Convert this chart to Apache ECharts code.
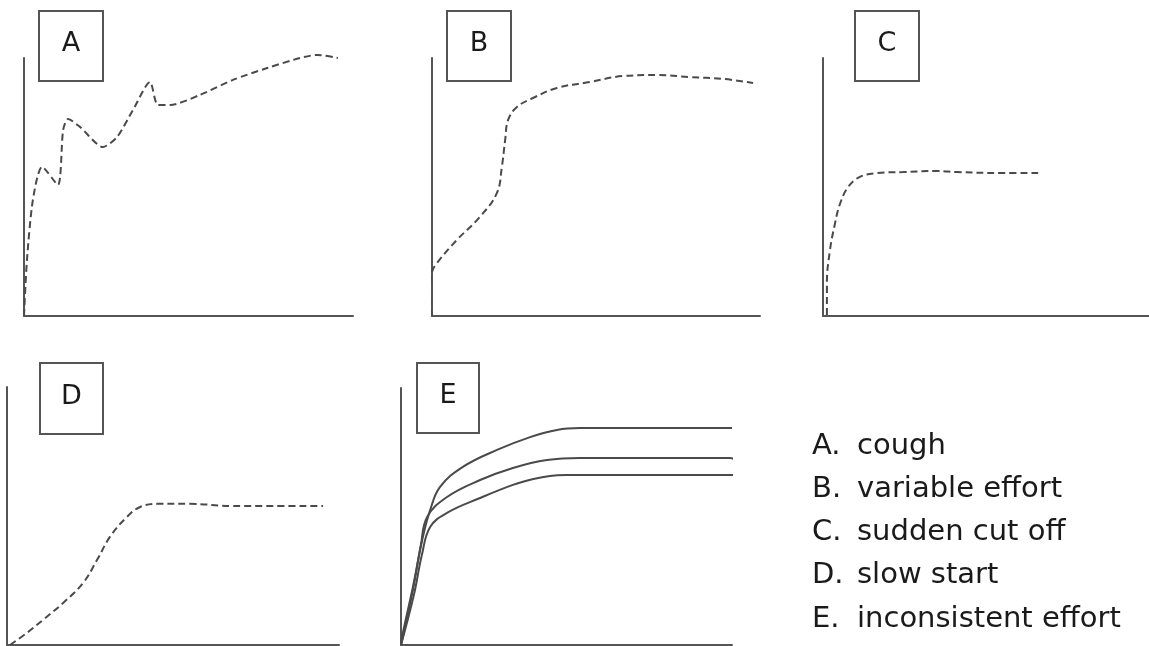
<!DOCTYPE html>
<html>
<head>
<meta charset="utf-8">
<title>Spirometry errors</title>
<script src="https://cdn.jsdelivr.net/npm/echarts@6/dist/echarts.min.js"></script>
<style>
  html, body { margin: 0; padding: 0; background: #fff; }
  #chart { width: 1149px; height: 646px; }
</style>
</head>
<body>
<div id="chart"></div>
<script>
// curve values (x: 0-100 along the axis, y: 0-100 up the axis)
const coughX = [0, 0.9, 2.7, 5.5, 10.3, 11.9, 13.4, 17.0, 24.0, 28.3, 33.1, 38.3, 40.7, 44.4, 53.5, 63.5, 73.9, 83.9, 89.1, 95.4];
const coughY = [0, 21.7, 45, 57.8, 50.8, 72.1, 76.4, 73.3, 65.5, 69.4, 79.8, 90.7, 81.8, 81.8, 85.7, 91.5, 96.1, 100, 101.2, 100];

const variableX = [0, -0.6, 0, 1.5, 7.6, 14.6, 19.8, 21.3, 22.3, 23.2, 25.9, 30.8, 38.1, 48.2, 58.2, 68.6, 78.7, 88.7, 97.9];
const variableY = [0, 8.9, 17, 20.5, 29.5, 38.4, 47.7, 57.8, 68.2, 76, 81, 84.5, 88.4, 90.7, 93, 93.4, 92.6, 91.9, 90.3];

const cutoffX = [1.2, 1.2, 2.1, 3.7, 5.2, 7.7, 11.3, 16.6, 24.5, 35, 41.1, 55.2, 66];
const cutoffY = [0.4, 12.8, 25.2, 36, 43.4, 50, 53.9, 55.4, 55.8, 56.2, 55.8, 55.4, 55.4];

const slowX = [0.9, 6, 10.8, 16.9, 22.9, 27.1, 31, 36.1, 40.1, 45.2, 55.1, 68.1, 95.2];
const slowY = [0, 4.7, 9.7, 16.3, 24, 32.9, 41.9, 49.6, 53.5, 54.7, 54.7, 53.9, 53.9];

const effort1X = [0, 0.3, 3.6, 6.6, 8.8, 11.8, 18.7, 29, 39, 47.1, 54.1, 60, 100];
const effort1Y = [0, 3.1, 22.6, 42, 52.5, 61.5, 69.3, 75.9, 80.9, 83.7, 84.4, 84.4, 84.4];
const effort2X = [0, 3.6, 6, 7.9, 13.9, 23.9, 33.8, 44.1, 54.1, 60, 99.4, 101.5];
const effort2Y = [0, 21.4, 38.9, 49.8, 57.6, 64.2, 68.9, 72, 72.8, 72.8, 72.8, 71.6];
const effort3X = [0, 3.9, 6.3, 8.8, 13.9, 23.9, 33.8, 40, 45, 50, 101.2];
const effort3Y = [0, 19.5, 35, 45.9, 51.4, 57.2, 62.3, 64.6, 65.8, 66.1, 66.1];

const panelLetters = ['A', 'B', 'C', 'D', 'E'];
const keyLetters = ['A.', 'B.', 'C.', 'D.', 'E.'];
const keyText = ['cough', 'variable effort', 'sudden cut off', 'slow start', 'inconsistent effort'];

function pairs(xs, ys) {
    return xs.map(function(x, i) { return [x, ys[i]]; });
}

const font = '"Comic Sans MS", "DejaVu Sans", sans-serif';
const ink = '#4a4a4a';

// panel layout: [left, top, width, height]
const grids = [
    [24, 58, 329, 258],
    [432, 58, 328, 258],
    [823, 58, 326, 258],
    [7, 387, 332, 258],
    [401, 388, 331, 257]
];
// label boxes: [x, y, w, h]
const boxes = [
    [39, 11, 64, 70],
    [447, 11, 64, 70],
    [855, 11, 64, 70],
    [40, 363, 63, 71],
    [417, 363, 62, 70]
];

var xAxes = [], yAxes = [], gridOpts = [];
grids.forEach(function(g, i) {
    gridOpts.push({ left: g[0], top: g[1], width: g[2], height: g[3] });
    xAxes.push({
        type: 'value', gridIndex: i, min: 0, max: 100,
        axisLine: { show: true, onZero: false, lineStyle: { color: '#555', width: 2 } },
        axisTick: { show: false }, axisLabel: { show: false }, splitLine: { show: false }
    });
    yAxes.push({
        type: 'value', gridIndex: i, min: 0, max: 100,
        axisLine: { show: true, onZero: false, lineStyle: { color: '#555', width: 2 } },
        axisTick: { show: false }, axisLabel: { show: false }, splitLine: { show: false }
    });
});

function dashed(idx, data, smooth) {
    return {
        type: 'line', xAxisIndex: idx, yAxisIndex: idx,
        data: data, smooth: smooth, showSymbol: false, clip: false, silent: true,
        lineStyle: { color: ink, width: 2, type: [7, 4] }
    };
}
function solid(idx, data) {
    return {
        type: 'line', xAxisIndex: idx, yAxisIndex: idx,
        data: data, smooth: 0.4, showSymbol: false, clip: false, silent: true,
        lineStyle: { color: ink, width: 2 }
    };
}

var graphics = [];
boxes.forEach(function(b, i) {
    graphics.push({
        type: 'rect', z: 10,
        shape: { x: b[0], y: b[1], width: b[2], height: b[3] },
        style: { fill: '#fff', stroke: '#555', lineWidth: 2 }
    });
    graphics.push({
        type: 'text', z: 11,
        x: b[0] + b[2] / 2, y: b[1] + b[3] / 2 - 2,
        style: { text: panelLetters[i], font: '27px ' + font, fill: '#1a1a1a', textAlign: 'center', textVerticalAlign: 'middle' }
    });
});
const keyY = [445, 488, 531, 574, 618];
keyText.forEach(function(t, i) {
    graphics.push({
        type: 'text', x: 812, y: keyY[i] + 1,
        style: { text: keyLetters[i], font: '29px ' + font, fill: '#1a1a1a', textVerticalAlign: 'middle' }
    });
    graphics.push({
        type: 'text', x: 857, y: keyY[i] + 1,
        style: { text: t, font: '29px ' + font, fill: '#1a1a1a', textVerticalAlign: 'middle' }
    });
});

var option = {
    animation: false,
    backgroundColor: '#fff',
    grid: gridOpts,
    xAxis: xAxes,
    yAxis: yAxes,
    series: [
        dashed(0, pairs(coughX, coughY), 0.25),
        dashed(1, pairs(variableX, variableY), 0.4),
        dashed(2, pairs(cutoffX, cutoffY), 0.4),
        dashed(3, pairs(slowX, slowY), 0.4),
        solid(4, pairs(effort1X, effort1Y)),
        solid(4, pairs(effort2X, effort2Y)),
        solid(4, pairs(effort3X, effort3Y))
    ],
    graphic: graphics
};

var chart = echarts.init(document.getElementById('chart'));
chart.setOption(option);
window.addEventListener('resize', function() { chart.resize(); });
</script>
</body>
</html>
